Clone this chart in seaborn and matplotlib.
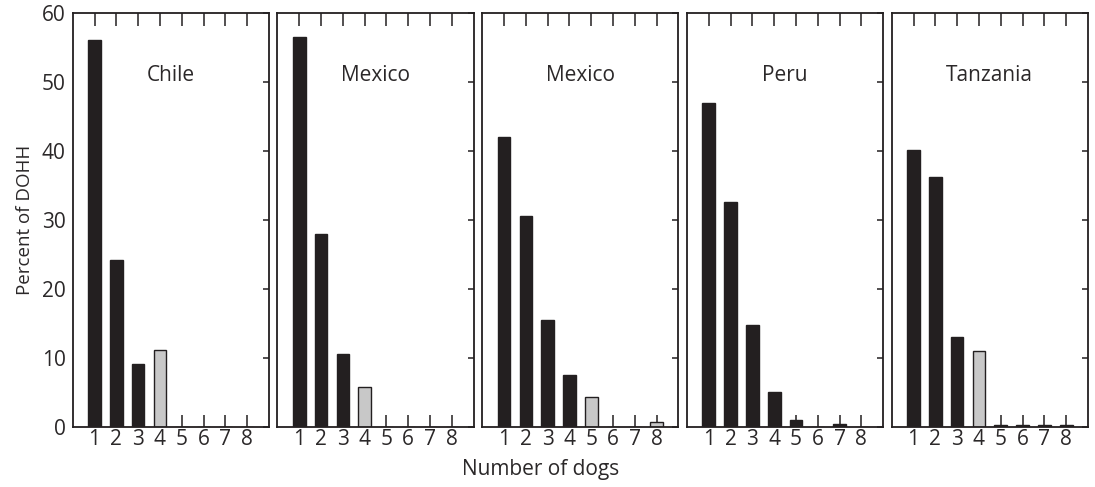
import matplotlib
matplotlib.use("Agg")
import matplotlib.pyplot as plt
import seaborn as sns
import pandas as pd

# ---- data ----
dogs = [1, 2, 3, 4, 5, 6, 7, 8]
panel_titles = ["Chile", "Mexico", "Mexico", "Peru", "Tanzania"]
chile = [56.0, 24.2, 9.1, 11.1, 0.0, 0.0, 0.0, 0.0]
mexico_a = [56.5, 27.9, 10.5, 5.7, 0.0, 0.0, 0.0, 0.0]
mexico_b = [42.0, 30.5, 15.5, 7.5, 4.3, 0.0, 0.0, 0.6]
peru = [46.9, 32.6, 14.8, 5.0, 0.9, 0.0, 0.4, 0.0]
tanzania = [40.1, 36.2, 13.0, 10.9, 0.2, 0.2, 0.2, 0.2]
# 1 = grey (shaded) bar, 0 = black bar
chile_grey = [0, 0, 0, 1, 0, 0, 0, 0]
mexico_a_grey = [0, 0, 0, 1, 0, 0, 0, 0]
mexico_b_grey = [0, 0, 0, 0, 1, 0, 0, 1]
peru_grey = [0, 0, 0, 0, 0, 0, 0, 0]
tanzania_grey = [0, 0, 0, 1, 0, 0, 0, 0]
y_ticks = [0, 10, 20, 30, 40, 50, 60]
x_label = "Number of dogs"
y_label = "Percent of DOHH"

series = [chile, mexico_a, mexico_b, peru, tanzania]
greys = [chile_grey, mexico_a_grey, mexico_b_grey, peru_grey, tanzania_grey]

sns.set_theme(style="white")
plt.rcParams["font.family"] = ["Open Sans", "DejaVu Sans"]
TXT = "#2b2829"
plt.rcParams["text.color"] = TXT
plt.rcParams["axes.labelcolor"] = TXT
plt.rcParams["xtick.color"] = "#231f20"
plt.rcParams["ytick.color"] = "#231f20"
plt.rcParams["xtick.labelcolor"] = TXT
plt.rcParams["ytick.labelcolor"] = TXT

fig, axes = plt.subplots(1, 5, figsize=(10.95, 4.87), dpi=100, sharey=True)
fig.subplots_adjust(left=0.0664, right=0.9936, bottom=0.124, top=0.974, wspace=0.0433)

palette = {"black": "#231f20", "grey": "#c8c8c8"}

for i, ax in enumerate(axes):
    df = pd.DataFrame({
        "dogs": dogs,
        "pct": series[i],
        "kind": ["grey" if g else "black" for g in greys[i]],
    })
    sns.barplot(data=df, x="dogs", y="pct", hue="kind", palette=palette,
                native_scale=True, width=0.58, dodge=False, legend=False,
                edgecolor="#231f20", linewidth=1.0, saturation=1, ax=ax, errorbar=None)
    ax.set_axisbelow(True)
    ax.set_xlim(0, 9)
    ax.set_ylim(0, 60)
    ax.set_xticks(dogs)
    ax.set_xticklabels([str(d) for d in dogs], fontsize=15)
    ax.set_yticks(y_ticks)
    ax.tick_params(axis="x", which="both", direction="in", length=9, width=1.1,
                   top=True, bottom=True, labeltop=False, labelbottom=True, pad=2)
    ax.tick_params(axis="y", which="both", direction="in", length=4.5, width=1.1,
                   left=False, right=True, labelleft=(i == 0), labelright=False,
                   labelsize=15, pad=5)
    for s in ax.spines.values():
        s.set_visible(True)
        s.set_color("#231f20")
        s.set_linewidth(1.3)
    ax.set_xlabel("")
    ax.set_ylabel("")
    ax.text(0.5, 0.848, panel_titles[i], transform=ax.transAxes, ha="center",
            va="center", fontsize=15, color=TXT)

axes[0].set_ylabel(y_label, fontsize=13.5, labelpad=6)
fig.text(0.494, 0.035, x_label, ha="center", va="center", fontsize=15, color=TXT)

fig.savefig("out.png", dpi=100)
